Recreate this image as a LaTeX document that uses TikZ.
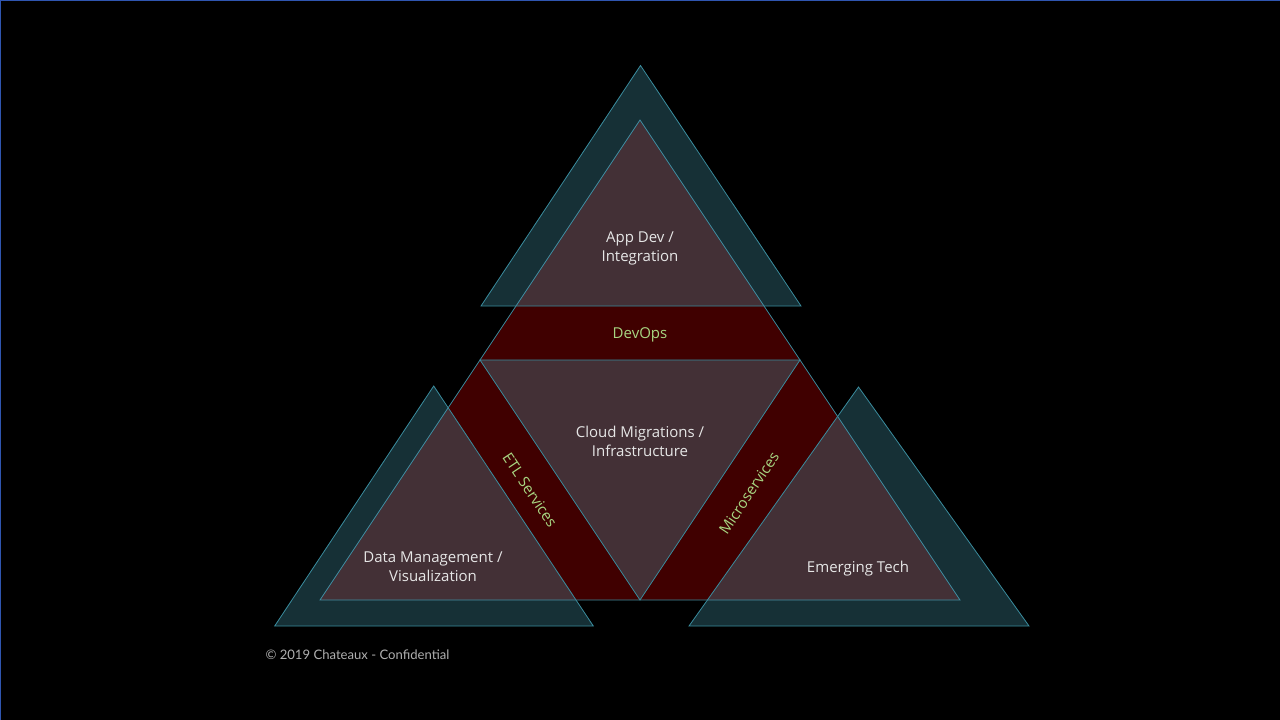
\documentclass[tikz,border=0pt]{standalone}
\usepackage{fontspec}
\setmainfont{Open Sans}
\newfontfamily\footfont{Lato}
\definecolor{bandred}{RGB}{64,0,0}
\definecolor{edgeblue}{RGB}{58,140,158}
\definecolor{tealfill}{RGB}{74,155,177}
\definecolor{labelgrey}{RGB}{230,230,230}
\definecolor{labelgreen}{RGB}{168,214,130}
\definecolor{footgrey}{RGB}{176,176,176}
\definecolor{frameblue}{RGB}{47,85,176}

\begin{document}
\begin{tikzpicture}[x=1pt,y=-1pt,
  tri/.style={draw=edgeblue,line width=0.8pt,fill=tealfill,fill opacity=0.31},
  area/.style={text=labelgrey,font=\fontsize{15}{19}\selectfont,align=center},
  band/.style={text=labelgreen,font=\fontsize{15}{17}\selectfont}]
  \fill[black] (0,0) rectangle (1280,720);
  \useasboundingbox (0,0) rectangle (1280,720);
  \draw[frameblue] (0.5,720) -- (0.5,0.5) -- (1280,0.5);
  % big triangle
  \draw[draw=edgeblue,line width=0.8pt,fill=bandred] (640,120) -- (320,600) -- (960,600) -- cycle;
  % centre
  \draw[tri] (480,360) -- (800,360) -- (640,600) -- cycle;
  % outer triangles
  \draw[tri] (640.5,65.5) -- (481,306) -- (801,306) -- cycle;
  \draw[tri] (433.7,386) -- (274.7,626) -- (593.3,626) -- cycle;
  \draw[tri] (858.5,387) -- (689,626) -- (1029,626) -- cycle;
  % labels
  \node[area] (appdev) at (640,248.5) {App Dev /\\Integration};
  \node[area] (cloud) at (640,441) {Cloud Migrations /\\Infrastructure};
  \node[area] (datamgmt) at (433,567) {Data Management /\\Visualization};
  \node[area] (emerging) at (858,568.5) {Emerging Tech};
  \node[band] (devops) at (640,335) {DevOps};
  \node[band,rotate=-56.3] (etl) at (530,490) {ETL Services};
  \node[band,rotate=56.3] (micro) at (749,493) {Microservices};
  \node[anchor=west,text=footgrey,font=\footfont\fontsize{13.1}{15}\selectfont] (copy) at (262,655) {© 2019 Chateaux - Confidential};
\end{tikzpicture}
\end{document}
